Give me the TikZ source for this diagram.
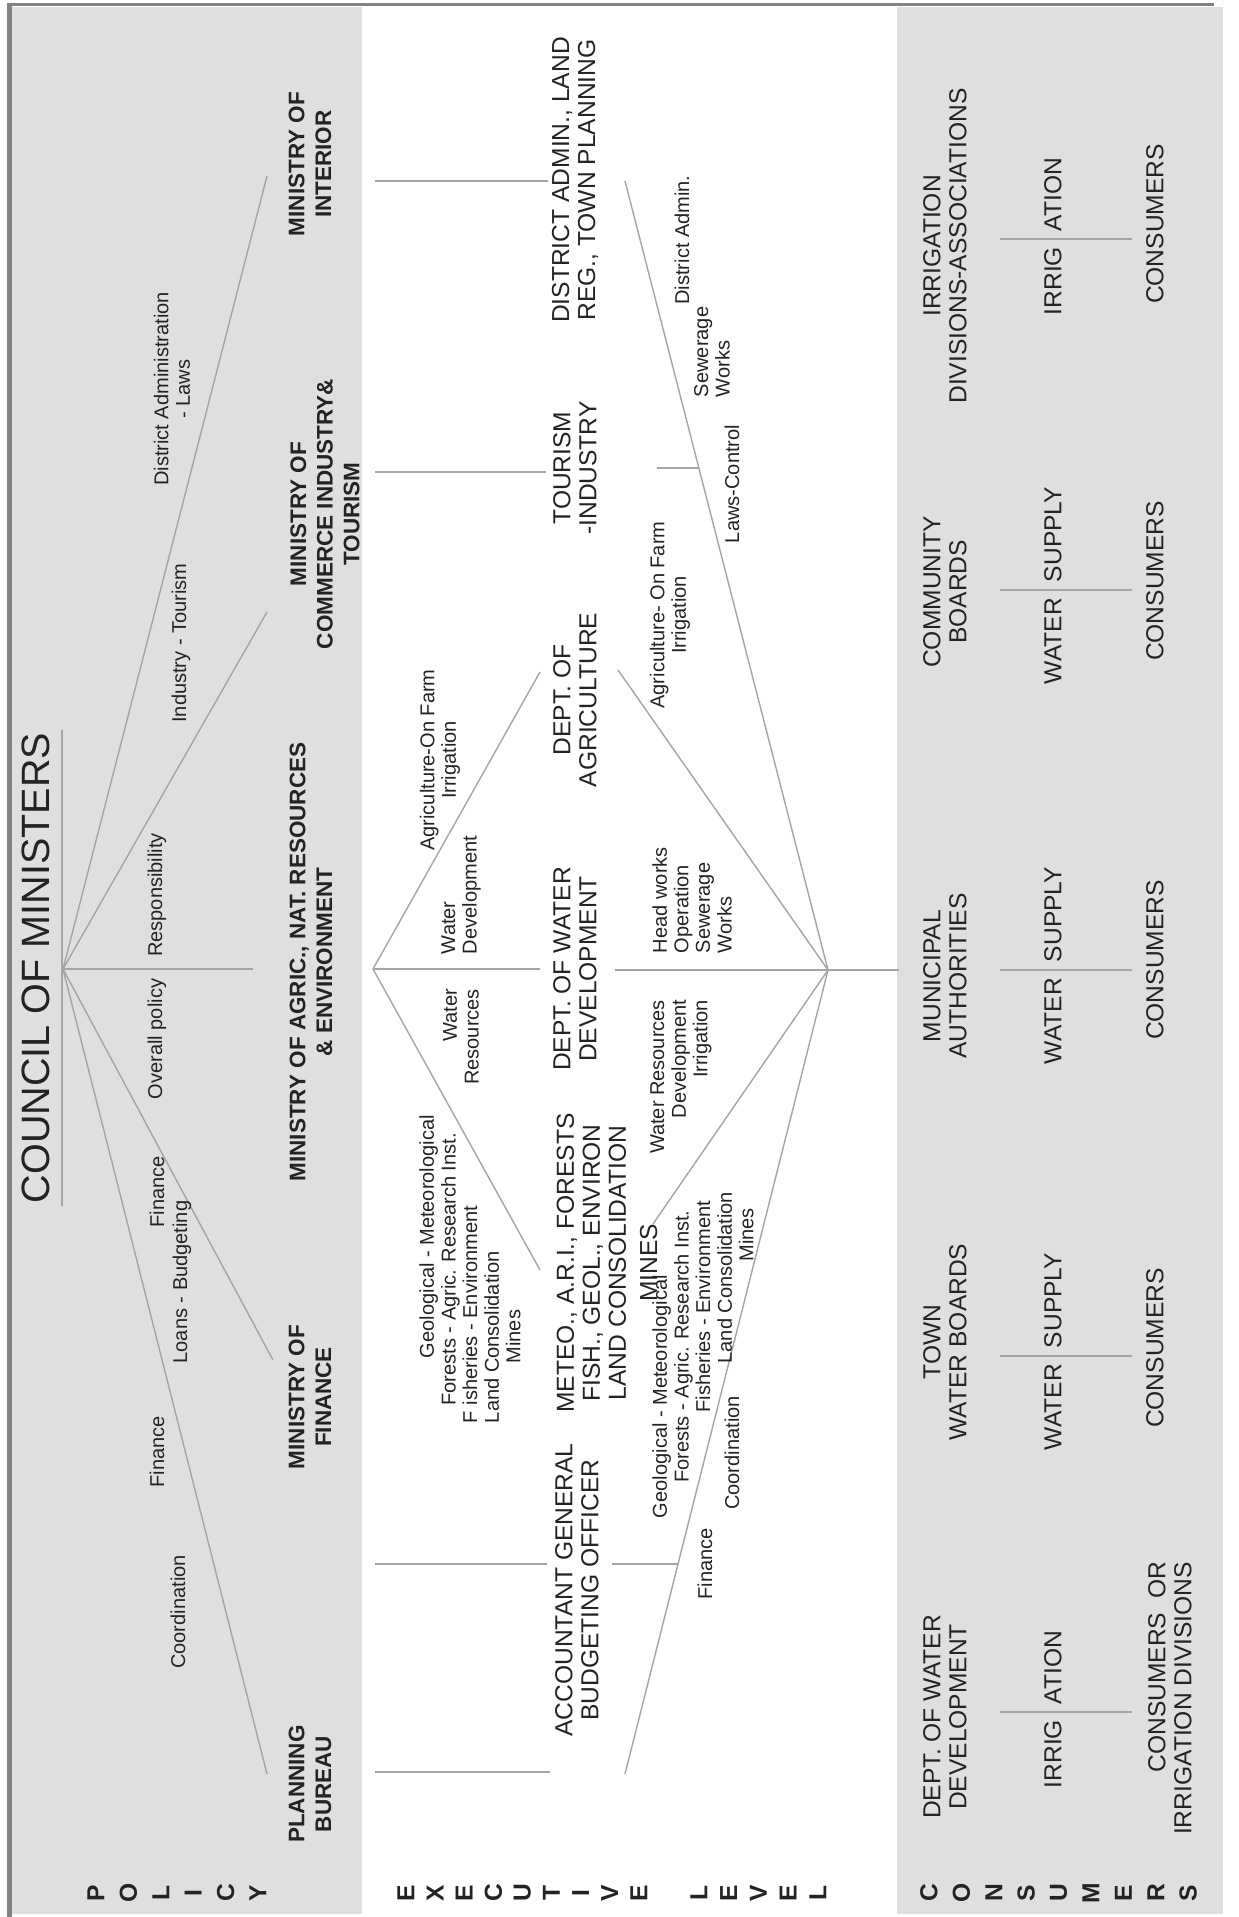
\documentclass[tikz,border=0pt]{standalone}
\usepackage{fontspec}
\setmainfont{Liberation Sans}
\definecolor{panel}{RGB}{223,223,223}
\definecolor{ln}{RGB}{165,165,165}
\definecolor{txt}{RGB}{35,35,35}
\definecolor{framec}{RGB}{130,130,130}
\begin{document}
\begin{tikzpicture}[x=0.02cm, y=-0.02cm,
  every node/.style={inner sep=0pt, outer sep=0pt, text=txt},
  rt/.style={rotate=90},
  ttl/.style={rt, font=\fontsize{22.5}{26}\selectfont},
  minis/.style={rt, align=center, font=\fontsize{12.8}{15.2}\selectfont\bfseries},
  big/.style={rt, align=center, font=\fontsize{14}{14.8}\selectfont},
  small/.style={rt, font=\fontsize{11.4}{12.3}\selectfont},
  side/.style={rt, font=\fontsize{14}{14}\selectfont\bfseries},
  conn/.style={draw=ln, line width=0.8pt},
]
\useasboundingbox (0,0) rectangle (1239,1917);
% background
\fill[white] (0,0) rectangle (1239,1917);
\fill[panel] (12,7) rectangle (362,1914);
\fill[panel] (897,7) rectangle (1223,1914);
\fill[framec] (7,3) rectangle (12,1917);
\fill[framec] (7,3) rectangle (1214,6);

% ---------------- POLICY ----------------
\node[ttl] (council) at (36,968) {COUNCIL OF MINISTERS};
\coordinate (ulA) at (62,730);
\coordinate (ulB) at (62,1206);
\draw[conn] (ulA) -- (ulB);

\coordinate (hub) at (63,969);
\coordinate (eInt) at (267,176);
\coordinate (eCom) at (267,612);
\coordinate (eAgr) at (253,969);
\coordinate (eFin) at (273,1360);
\coordinate (ePlan) at (267,1774);
\foreach \e in {eInt,eCom,eAgr,eFin,ePlan} \draw[conn] (hub) -- (\e);

\node[minis] (mInt) at (310,164) {MINISTRY OF\\INTERIOR};
\node[minis] (mCom) at (325,514) {MINISTRY OF\\COMMERCE INDUSTRY\&\\TOURISM};
\node[minis] (mAgr) at (311,962) {MINISTRY OF AGRIC., NAT. RESOURCES\\\& ENVIRONMENT};
\node[minis] (mFin) at (310,1397) {MINISTRY OF\\FINANCE};
\node[minis] (mPlan) at (310,1784) {PLANNING\\BUREAU};

\node[small, align=center] (lDist) at (172,389) {District Administration\\- Laws};
\node[small] (lInd) at (181,643) {Industry - Tourism};
\node[small] (lResp) at (157,895) {Responsibility};
\node[small] (lOver) at (157,1039) {Overall policy};
\node[small] (lFin1) at (157,1192) {Finance};
\node[small] (lLoans) at (182,1282) {Loans - Budgeting};
\node[small] (lFin2) at (157,1452) {Finance};
\node[small] (lCoord) at (178,1612) {Coordination};

% ---------------- EXECUTIVE ----------------
\coordinate (xInt0) at (375,181);  \coordinate (xInt1) at (548,181);
\coordinate (xCom0) at (375,472);  \coordinate (xCom1) at (546,472);
\coordinate (xFin0) at (375,1564); \coordinate (xFin1) at (547,1564);
\coordinate (xPlan0) at (375,1772); \coordinate (xPlan1) at (550,1772);
\draw[conn] (xInt0) -- (xInt1);
\draw[conn] (xCom0) -- (xCom1);
\draw[conn] (xFin0) -- (xFin1);
\draw[conn] (xPlan0) -- (xPlan1);

\coordinate (vL) at (373,969);
\coordinate (dAgr) at (540,672);
\coordinate (dWat) at (540,969);
\coordinate (dMet) at (540,1270);
\foreach \e in {dAgr,dWat,dMet} \draw[conn] (vL) -- (\e);

\node[big] (xDist) at (575,180) {DISTRICT ADMIN., LAND\\REG., TOWN PLANNING};
\node[big] (xTour) at (575,468) {TOURISM\\-INDUSTRY};
\node[big] (xAgri) at (575,700) {DEPT. OF\\AGRICULTURE};
\node[big] (xWat) at (575,969) {DEPT. OF WATER\\DEVELOPMENT};
\node[big] (xMet) at (607,1263) {METEO., A.R.I., FORESTS\\FISH., GEOL., ENVIRON\\LAND CONSOLIDATION\\[3pt]MINES};
\node[big] (xAcc) at (577,1590) {ACCOUNTANT GENERAL\\BUDGETING OFFICER};

\node[small, align=center] (lAgr) at (440,760) {Agriculture-On Farm\\Irrigation};
\node[small, align=left, anchor=west] (lWD) at (461,954) {Water\\Development};
\node[small, align=right, anchor=east] (lWR) at (461,989) {Water\\Resources};
\node[small, align=left, anchor=west] (lGeo) at (470,1423) {\hspace*{37pt}Geological - Meteorological\\\hspace*{10pt}Forests - Agric. Research Inst.\\F isheries - Environment\\Land Consolidation\\\hspace*{34pt}Mines};

% right fan
\coordinate (vR) at (828,970);
\coordinate (fDist) at (625,181);
\coordinate (fAgr) at (618,670);
\coordinate (fWat) at (615,970);
\coordinate (fMet) at (653,1224);
\coordinate (fPlan) at (625,1774);
\coordinate (cEdge) at (899,970);
\foreach \e in {fDist,fAgr,fWat,fMet,fPlan} \draw[conn] (vR) -- (\e);
\draw[conn] (vR) -- (cEdge);
\coordinate (tT0) at (657,468); \coordinate (tT1) at (699,468);
\coordinate (tF0) at (612,1564); \coordinate (tF1) at (678,1564);
\draw[conn] (tT0) -- (tT1);
\draw[conn] (tF0) -- (tF1);

\node[small] (rDA) at (682,240) {District Admin.};
\node[small, align=left, anchor=west] (rSew) at (712,397) {Sewerage\\Works};
\node[small] (rLaws) at (732,484) {Laws-Control};
\node[small, align=center] (rAgr) at (670,615) {Agriculture- On Farm\\Irrigation};
\node[small, align=left, anchor=west] (rHead) at (692,953) {Head works\\Operation\\Sewerage\\Works};
\node[small, align=right, anchor=east] (rWRD) at (681,1000) {Water Resources\\Development\\Irrigation};
\node[small, align=left, anchor=west] (rGeo) at (703,1518) {Geological - Meteorological\\\hspace*{20pt}Forests - Agric. Research Inst.\\\hspace*{60pt}Fisheries - Environment\\\hspace*{88pt}Land Consolidation\\\hspace*{146pt}Mines};
\node[small] (rFin) at (705,1564) {Finance};
\node[small] (rCoord) at (732,1453) {Coordination};

% ---------------- CONSUMERS ----------------
\node[big] (cIrr) at (945,246) {IRRIGATION\\DIVISIONS-ASSOCIATIONS};
\node[big] (cCom) at (945,592) {COMMUNITY\\BOARDS};
\node[big] (cMun) at (945,976) {MUNICIPAL\\AUTHORITIES};
\node[big] (cTown) at (945,1342) {TOWN\\WATER BOARDS};
\node[big] (cDept) at (945,1717) {DEPT. OF WATER\\DEVELOPMENT};

\foreach \yy/\lo/\up [count=\i] in {239/IRRIG/ATION, 590/WATER/SUPPLY, 970/WATER/SUPPLY, 1356/WATER/SUPPLY, 1712/IRRIG/ATION} {
  \coordinate (sA\i) at (1000,\yy);
  \coordinate (sB\i) at (1132,\yy);
  \draw[conn] (sA\i) -- (sB\i);
  \node[big, anchor=east] (wl\i) at (1053,\yy+8) {\lo};
  \node[big, anchor=west] (wu\i) at (1053,\yy-8) {\up};
}

\node[big] (k1) at (1155,224) {CONSUMERS};
\node[big] (k2) at (1155,581) {CONSUMERS};
\node[big] (k3) at (1155,960) {CONSUMERS};
\node[big] (k4) at (1155,1348) {CONSUMERS};
\node[big, align=right, anchor=east] (k5) at (1170,1562) {CONSUMERS\ \ OR\\IRRIGATION DIVISIONS};

% side letters
\foreach \ch [count=\i] in {P,O,L,I,C,Y} \node[side] (pol\i) at ({96+(\i-1)*32.4},1893) {\ch};
\foreach \ch [count=\i] in {E,X,E,C,U,T,I,V,E} \node[side] (exe\i) at ({406+(\i-1)*29.1},1893) {\ch};
\foreach \ch [count=\i] in {L,E,V,E,L} \node[side] (lev\i) at ({699+(\i-1)*29.75},1893) {\ch};
\foreach \ch [count=\i] in {C,O,N,S,U,M,E,R,S} \node[side] (con\i) at ({929+(\i-1)*32.4},1893) {\ch};
\end{tikzpicture}
\end{document}
